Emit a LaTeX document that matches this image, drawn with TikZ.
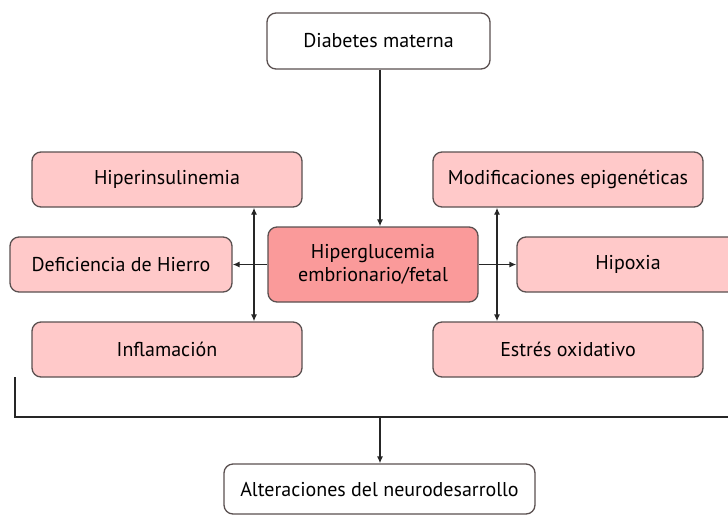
\documentclass[tikz,border=0pt]{standalone}
\usepackage{fontspec}
\setmainfont{PT Sans}
\usetikzlibrary{arrows.meta}
\definecolor{boxline}{HTML}{5A5050}
\definecolor{lightpink}{HTML}{FFC9C9}
\definecolor{midpink}{HTML}{FA9A9A}
\tikzset{
  base/.style={draw=boxline, line width=1.3pt, rounded corners=9pt, align=center, inner sep=0pt, font=\fontsize{20}{23}\selectfont, text=black},
  whitebox/.style={base, fill=white},
  pinkbox/.style={base, fill=lightpink},
  centralbox/.style={base, fill=midpink},
  conn/.style={line width=1.3pt, draw=black!85},
  arr/.style={conn, -{Latex[length=7pt,width=6pt]}},
  darr/.style={conn, {Latex[length=7pt,width=6pt]}-{Latex[length=7pt,width=6pt]}},
}
\begin{document}
\begin{tikzpicture}[x=1pt,y=-1pt]
\useasboundingbox (0,0) rectangle (728,515);
\clip (0,0) rectangle (728,515);
\node[whitebox, minimum width=223pt, minimum height=56pt] (dm) at (378.5,41) {Diabetes materna};
\node[pinkbox, minimum width=270pt, minimum height=55pt] (hi) at (167,179.5) {Hiperinsulinemia};
\node[pinkbox, minimum width=222pt, minimum height=55pt] (dh) at (121,264.5) {Deficiencia de Hierro};
\node[pinkbox, minimum width=270pt, minimum height=55pt] (inf) at (167,349.5) {Inflamación};
\node[centralbox, minimum width=210pt, minimum height=75pt] (hg) at (373,264.5) {Hiperglucemia\\embrionario/fetal};
\node[pinkbox, minimum width=270pt, minimum height=55pt] (me) at (568,179.5) {Modificaciones epigenéticas};
\node[pinkbox, minimum width=250pt, minimum height=55pt] (hx) at (642,264.5) {\hspace*{-28pt}Hipoxia};
\node[pinkbox, minimum width=270pt, minimum height=55pt] (eo) at (568,349.5) {Estrés oxidativo};
\node[whitebox, minimum width=311pt, minimum height=50pt] (alt) at (379.5,489) {Alteraciones del neurodesarrollo};
\coordinate (lx) at (254,0);
\coordinate (rx) at (497,0);
\coordinate (bl) at (15,377);
\coordinate (br) at (730,377);
\coordinate (bj) at (380,417);
\draw[arr] (dm.south -| bj) -- (hg.north -| bj);
\draw[darr] (hi.south -| lx) -- (inf.north -| lx);
\draw[darr] (me.south -| rx) -- (eo.north -| rx);
\draw[arr] (hg.west) -- (dh.east);
\draw[arr] (hg.east) -- (hx.west);
\draw[conn] (bl) -- (bl |- bj) -- (br |- bj) -- (br);
\draw[arr] (bj) -- (alt.north -| bj);
\end{tikzpicture}
\end{document}
